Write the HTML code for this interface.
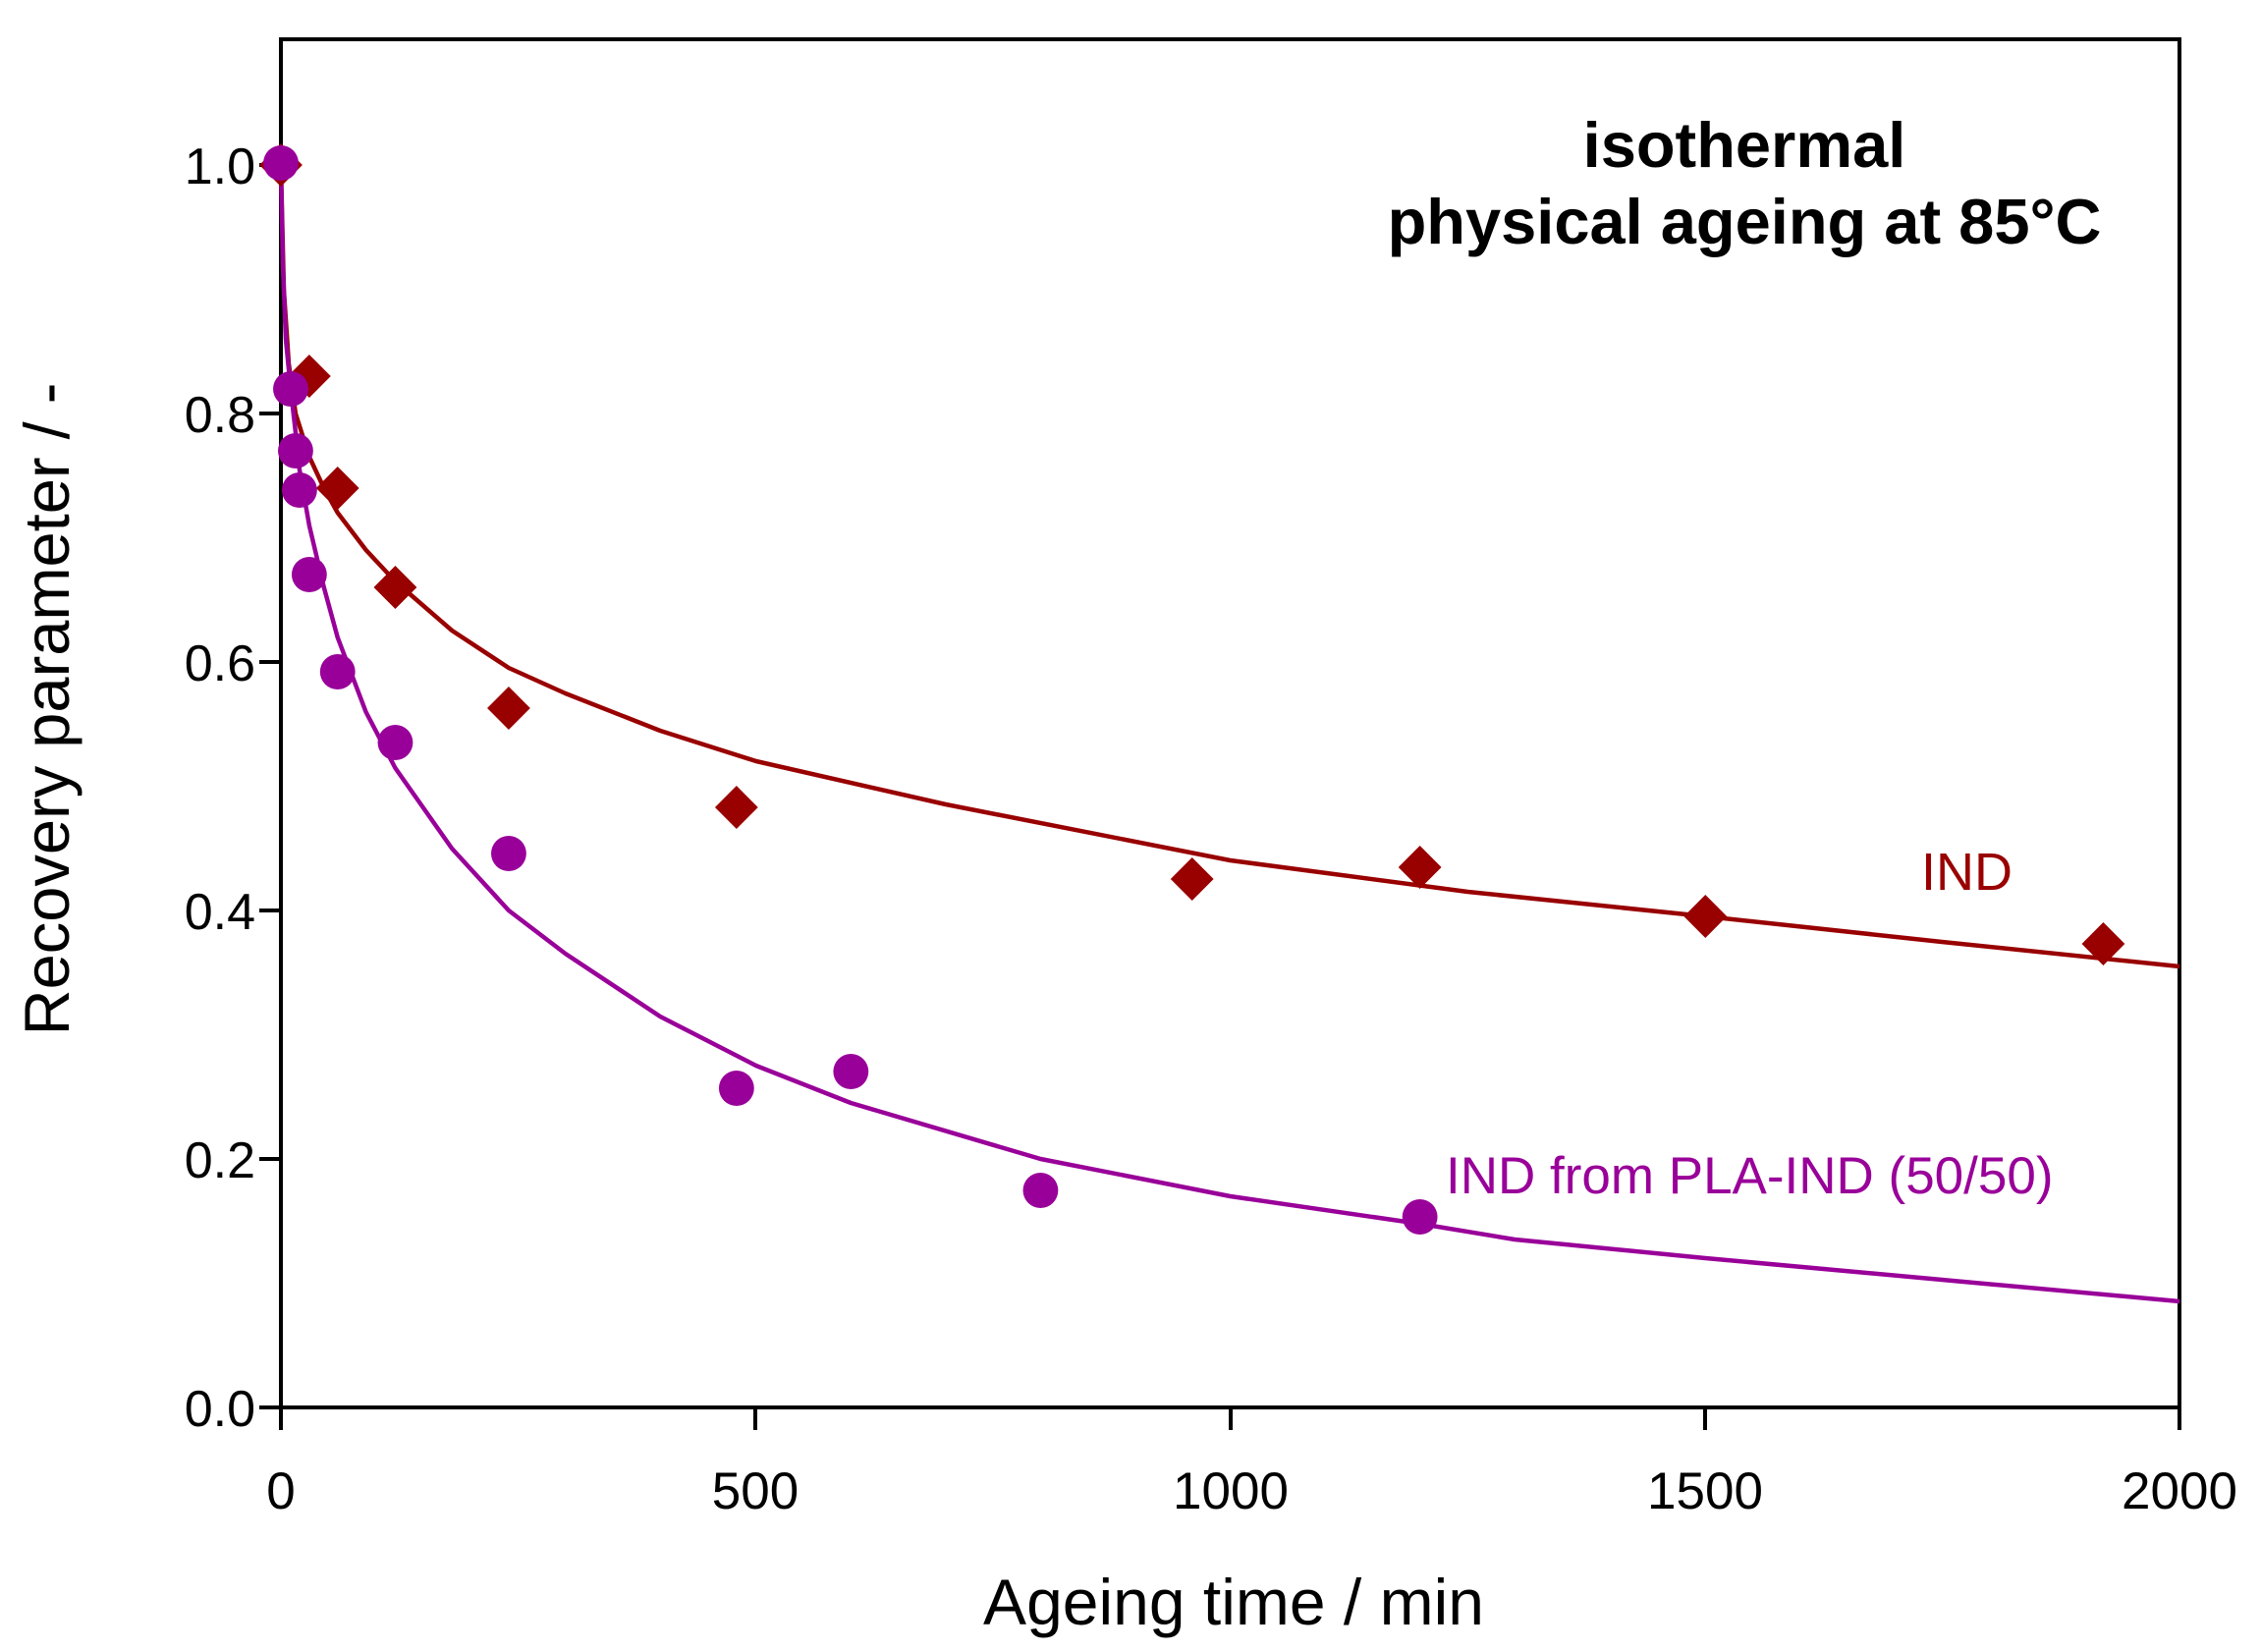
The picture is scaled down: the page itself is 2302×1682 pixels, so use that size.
<!DOCTYPE html>
<html><head><meta charset="utf-8"><style>html,body{margin:0;padding:0;background:#fff}svg{display:block}</style></head>
<body>
<svg width="2302" height="1682" viewBox="0 0 2302 1682" xmlns="http://www.w3.org/2000/svg" font-family="Liberation Sans, Arial, sans-serif">
<rect width="2302" height="1682" fill="#fff"/>
<rect x="286" y="40" width="1933" height="1393" fill="none" stroke="#000" stroke-width="4"/>
<g stroke="#000" stroke-width="4">
<line x1="264" y1="1433" x2="286" y2="1433"/>
<line x1="264" y1="1180" x2="286" y2="1180"/>
<line x1="264" y1="927" x2="286" y2="927"/>
<line x1="264" y1="674" x2="286" y2="674"/>
<line x1="264" y1="421" x2="286" y2="421"/>
<line x1="264" y1="168" x2="286" y2="168"/>
<line x1="286" y1="1433" x2="286" y2="1456"/>
<line x1="769" y1="1433" x2="769" y2="1456"/>
<line x1="1253" y1="1433" x2="1253" y2="1456"/>
<line x1="1736" y1="1433" x2="1736" y2="1456"/>
<line x1="2219" y1="1433" x2="2219" y2="1456"/>
</g>
<g font-size="52" fill="#000" text-anchor="end">
<text x="260" y="1452">0.0</text>
<text x="260" y="1199">0.2</text>
<text x="260" y="946">0.4</text>
<text x="260" y="693">0.6</text>
<text x="260" y="440">0.8</text>
<text x="260" y="187">1.0</text>
</g>
<g font-size="53" fill="#000" text-anchor="middle">
<text x="286" y="1536">0</text>
<text x="769" y="1536">500</text>
<text x="1253" y="1536">1000</text>
<text x="1736" y="1536">1500</text>
<text x="2219" y="1536">2000</text>
</g>
<text x="1256" y="1654" font-size="66" text-anchor="middle">Ageing time / min</text>
<text transform="translate(70,722) rotate(-90)" font-size="65" text-anchor="middle">Recovery parameter / -</text>
<g font-size="65" font-weight="bold" text-anchor="middle">
<text x="1776" y="170">isothermal</text>
<text x="1776" y="248">physical ageing at 85°C</text>
</g>
<text x="1956" y="906" font-size="54" fill="#990000">IND</text>
<text x="1472" y="1215" font-size="53" fill="#990099">IND from PLA-IND (50/50)</text>
<g transform="matrix(0.9954,0,0,1,1.315,0)">
<polyline fill="none" stroke="#990000" stroke-width="4.5" stroke-linejoin="round" points="286,168 289,295 294,370 301,421 315,465 330,497 344,522 373,560 403,592 461,642 519,680 577,706 674,744 772,775 966,819 1257,876 1500,908 1743,933 1985,959 2228,984"/>
<polyline fill="none" stroke="#990099" stroke-width="4.5" stroke-linejoin="round" points="286,168 288,269 291,345 296,396 301,440 305,478 315,535 330,598 344,649 373,725 403,782 461,864 519,927 577,971 674,1035 772,1085 869,1123 1063,1180 1257,1218 1451,1246 1548,1262 1743,1281 1985,1303 2228,1325"/>
<g fill="#990000">
<path d="M286,146 L308,168 L286,190 L264,168Z"/>
<path d="M315,361 L337,383 L315,405 L293,383Z"/>
<path d="M344,475 L366,497 L344,519 L322,497Z"/>
<path d="M403,576 L425,598 L403,620 L381,598Z"/>
<path d="M519,699 L541,721 L519,743 L497,721Z"/>
<path d="M752,800 L774,822 L752,844 L730,822Z"/>
<path d="M1218,873 L1240,895 L1218,917 L1196,895Z"/>
<path d="M1451,861 L1473,883 L1451,905 L1429,883Z"/>
<path d="M1743,911 L1765,933 L1743,955 L1721,933Z"/>
<path d="M2150,939 L2172,961 L2150,983 L2128,961Z"/>
</g>
<g fill="#990099">
<circle cx="286" cy="166" r="18"/>
<circle cx="296" cy="396" r="18"/>
<circle cx="301" cy="459" r="18"/>
<circle cx="305" cy="499" r="18"/>
<circle cx="315" cy="585" r="18"/>
<circle cx="344" cy="684" r="18"/>
<circle cx="403" cy="756" r="18"/>
<circle cx="519" cy="869" r="18"/>
<circle cx="752" cy="1108" r="18"/>
<circle cx="869" cy="1091" r="18"/>
<circle cx="1063" cy="1212" r="18"/>
<circle cx="1451" cy="1239" r="18"/>
</g>
</g>
</svg>
</body></html>
